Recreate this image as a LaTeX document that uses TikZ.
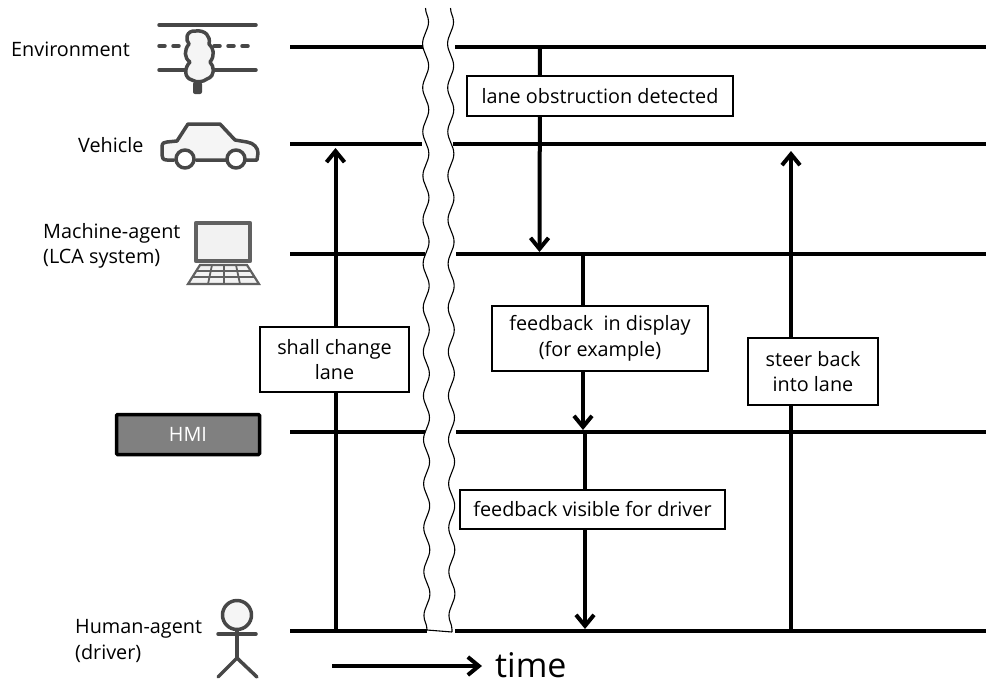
\documentclass[tikz,border=0pt]{standalone}
\usepackage{fontspec}
\setmainfont{Open Sans}
\usetikzlibrary{arrows.meta,decorations.pathmorphing}
\begin{document}
\begin{tikzpicture}[x=1pt,y=-1pt,every node/.style={font=\fontsize{19.8}{25.5}\selectfont}]
        \tikzset{edge/.style = {-{Straight Barb[length=11pt,width=18pt,line width=4pt]},line width=4pt}}
        \tikzset{level/.style = {line width=4pt}}
        \tikzset{stem/.style = {line width=4pt}}
        \tikzset{label/.style = {anchor=west,align=left,inner sep=0pt}}
        \tikzset{textbox/.style = {draw,line width=1.3pt,fill=white,align=center,inner sep=0pt}}
        \tikzset{wave/.style = {line width=1.1pt,decorate,decoration={snake,amplitude=3pt,segment length=44pt}}}
        \tikzset{icon/.style = {draw=black!72,line width=3.5pt,line join=round,line cap=round,fill=black!4}}
        \useasboundingbox (0,0) rectangle (986,683);

        % time lines
        \coordinate (EnvA) at (290,47);
        \coordinate (EnvB) at (423,47);
        \coordinate (EnvC) at (455,47);
        \coordinate (EnvD) at (986,47);
        \coordinate (VehA) at (290,144);
        \coordinate (VehB) at (422,144);
        \coordinate (VehC) at (453,144);
        \coordinate (VehD) at (986,144);
        \coordinate (MacA) at (290,254);
        \coordinate (MacB) at (425,254);
        \coordinate (MacC) at (456,254);
        \coordinate (MacD) at (986,254);
        \coordinate (HmiA) at (290,432);
        \coordinate (HmiB) at (425,432);
        \coordinate (HmiC) at (456,432);
        \coordinate (HmiD) at (986,432);
        \coordinate (HumA) at (290,631);
        \coordinate (HumB) at (427,631);
        \coordinate (HumC) at (455,631);
        \coordinate (HumD) at (986,631);

        \draw[level] (EnvA) to (EnvB);
        \draw[level] (EnvC) to (EnvD);
        \draw[level] (VehA) to (VehB);
        \draw[level] (VehC) to (VehD);
        \draw[level] (MacA) to (MacB);
        \draw[level] (MacC) to (MacD);
        \draw[level] (HmiA) to (HmiB);
        \draw[level] (HmiC) to (HmiD);
        \draw[level] (HumA) to (HumB);
        \draw[level] (HumC) to (HumD);

        % the break
        \coordinate (BrkA) at (425.5,8);
        \coordinate (BrkB) at (427,630);
        \coordinate (BrkC) at (450.5,8);
        \coordinate (BrkD) at (452,632);
        \draw[wave] (BrkA) to (BrkB);
        \draw[wave] (BrkC) to (BrkD);
        \draw[line width=1.1pt] (BrkB) to (BrkD);

        % arrows
        \coordinate (ChangeA) at (335.5,631);
        \coordinate (ChangeB) at (335.5,148);
        \coordinate (SteerA) at (791,631);
        \coordinate (SteerB) at (791,151);
        \coordinate (ObstrA) at (540,47);
        \coordinate (ObstrB) at (539.5,252);
        \coordinate (DisplayA) at (583,254);
        \coordinate (DisplayB) at (583,430);
        \coordinate (VisibleA) at (585,432);
        \coordinate (VisibleB) at (585,629);
        \coordinate (TimeA) at (332,666);
        \coordinate (TimeB) at (482,666);

        \draw[edge] (ChangeA) to (ChangeB);
        \draw[edge] (SteerA) to (SteerB);
        \draw[edge] (ObstrA) to (ObstrB);
        \draw[edge] (DisplayA) to (DisplayB);
        \draw[edge] (VisibleA) to (VisibleB);
        \draw[edge] (TimeA) to (TimeB);

        % boxes
        \node[textbox,minimum width=266pt,minimum height=40pt] (Obstr) at (600,96) {lane obstruction detected};
        \node[textbox,minimum width=149pt,minimum height=65pt] (Change) at (334.5,359.5) {shall change\\lane};
        \node[textbox,minimum width=216pt,minimum height=65pt] (Display) at (600,338.5) {feedback\ \ in display\\(for example)};
        \node[textbox,minimum width=130pt,minimum height=67pt] (Steer) at (813,371.5) {steer back\\into lane};
        \node[textbox,minimum width=265pt,minimum height=39pt] (Visible) at (592.5,509.5) {feedback visible for driver};

        % labels
        \node[label] (Env) at (11,49) {Environment};
        \node[label] (Veh) at (78,145) {Vehicle};
        \node[label] (Mac) at (43,246) {Machine-agent\\(LCA system)};
        \node[label] (Hum) at (75,641) {Human-agent\\(driver)};
        \node[draw=black,line width=3.5pt,rounded corners=1pt,fill=black!50,text=white,minimum width=143pt,minimum height=40pt,inner sep=0pt] (Hmi) at (188,434.5) {HMI};
        \node[anchor=west,inner sep=0pt,font=\fontsize{34}{38}\selectfont] (Time) at (495,665) {time};

        % environment icon
        \draw[icon] (159,25) -- (256,25);
        \draw[icon] (159,70) -- (256,70);
        \draw[icon,dash pattern=on 6pt off 8pt] (159,46) -- (180,46);
        \draw[icon,dash pattern=on 6pt off 8pt] (214,46) -- (250,46);
        \fill[black!72,rounded corners=2pt] (193,82) rectangle (202,94);
        \draw[icon] (196,31) .. controls (186,30) and (185,40) .. (189,44)
                .. controls (184,50) and (184,58) .. (190,62)
                .. controls (184,68) and (184,78) .. (192,80)
                .. controls (197,83) and (203,82) .. (207,79)
                .. controls (216,76) and (214,66) .. (210,62)
                .. controls (215,56) and (214,48) .. (209,44)
                .. controls (211,36) and (205,30) .. (196,31) -- cycle;

        % vehicle icon
        \draw[icon] (174,160) -- (167,160) .. controls (163,160) and (162,158) .. (162,155) -- (162,147)
                .. controls (162,143) and (164,142) .. (167,142) -- (177,141)
                -- (188,124) -- (220,124) -- (235,140) -- (247,142)
                .. controls (254,143) and (258,148) .. (258,153) -- (257,160) -- (247,160)
                -- (196,160);
        \draw[icon,fill=white] (185,159) circle (9);
        \draw[icon,fill=white] (236,159) circle (9);

        % machine icon
        \draw[icon,draw=black!62,line width=4.5pt,line cap=butt,fill=black!5] (196,223) rectangle (250,261);
        \draw[black!62,line width=2.2pt,fill=black!5] (200,265) -- (247,265) -- (259,284) -- (188,284) -- cycle;
        \draw[black!62,line width=1.8pt] (197,271) -- (250,271);
        \draw[black!62,line width=1.8pt] (193,277) -- (254,277);
        \draw[black!62,line width=1.8pt] (212,265) -- (208,284);
        \draw[black!62,line width=1.8pt] (224,265) -- (224,284);
        \draw[black!62,line width=1.8pt] (236,265) -- (240,284);

        % human icon
        \draw[icon] (237,615) circle (14.5);
        \draw[icon,fill=none] (218,634) -- (256,634);
        \draw[icon,fill=none] (237,630) -- (237,658);
        \draw[icon,fill=none] (218,677) -- (237,658) -- (257,677);
\end{tikzpicture}
\end{document}
